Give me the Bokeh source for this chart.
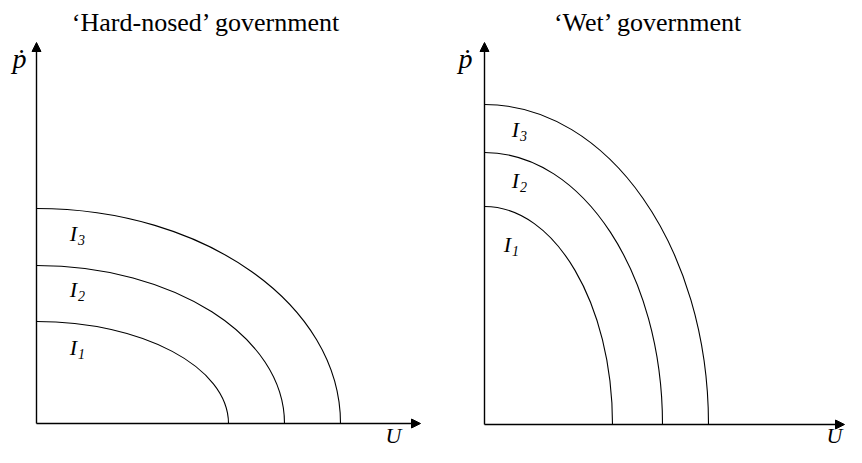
from bokeh.plotting import figure
from bokeh.models import Range1d, Arrow, NormalHead
from bokeh.layouts import row
from bokeh.core.properties import value
from bokeh.embed import file_html
from bokeh.resources import INLINE

# ---- data (abstract units, origin at axes intersection) ----
titles = ["\u2018Hard-nosed\u2019 government", "\u2018Wet\u2019 government"]
curve_names = ["1", "2", "3"]

left_u_intercepts = [192, 248, 304]
left_p_intercepts = [102, 158, 215]
left_label_x = [37, 37, 37]
left_label_y = [76, 134, 190]

right_u_intercepts = [128, 178, 224]
right_p_intercepts = [218, 272, 320]
right_label_x = [23, 31, 31]
right_label_y = [180, 244, 295]

FONT = value("Liberation Serif")
K = 0.5523


def panel(xr, yr, x_axis_end, y_axis_end, u_int, p_int, lx, ly, title_xy, pdot_xy, u_xy, title):
    p = figure(width=423, height=447, x_range=Range1d(*xr), y_range=Range1d(*yr),
               output_backend="svg", toolbar_location=None, min_border=0)
    p.axis.visible = False
    p.grid.visible = False
    p.outline_line_color = None
    p.background_fill_color = "white"
    p.border_fill_color = "white"

    for xs, ys in [((0, 0), (x_axis_end, 0)), ((0, 0), (0, y_axis_end))]:
        p.add_layout(Arrow(end=NormalHead(size=9, fill_color="black", line_color="black", line_width=1),
                           x_start=xs[0], y_start=xs[1], x_end=ys[0], y_end=ys[1],
                           line_color="black", line_width=1.4))

    # quarter-ellipse indifference curves via cubic Bezier
    p.bezier(x0=[0] * 3, y0=p_int, x1=u_int, y1=[0] * 3,
             cx0=[K * a for a in u_int], cy0=p_int,
             cx1=u_int, cy1=[K * b for b in p_int],
             line_color="black", line_width=1.1)

    p.text(x=lx, y=ly, text=["I"] * 3, text_font=FONT, text_font_size="22px",
           text_font_style="italic", text_align="center", text_baseline="middle")
    p.text(x=[x + 8 for x in lx], y=[y - 6 for y in ly], text=curve_names, text_font=FONT,
           text_font_size="14px", text_font_style="italic", text_align="center",
           text_baseline="middle")

    p.text(x=[title_xy[0]], y=[title_xy[1]], text=[title], text_font=FONT,
           text_font_size="26px", text_align="center", text_baseline="middle")
    p.text(x=[pdot_xy[0]], y=[pdot_xy[1]], text=["\u1e57"], text_font=FONT,
           text_font_size="28px", text_font_style="italic", text_align="center",
           text_baseline="middle")
    p.text(x=[u_xy[0]], y=[u_xy[1]], text=["U"], text_font=FONT,
           text_font_size="22px", text_font_style="italic", text_align="center",
           text_baseline="middle")
    return p


left = panel((-36, 387), (-24, 423), 384, 381, left_u_intercepts, left_p_intercepts,
             left_label_x, left_label_y, (170, 401), (-17, 365), (357, -12), titles[0])
right = panel((-61, 362), (-23, 424), 360, 382, right_u_intercepts, right_p_intercepts,
              right_label_x, right_label_y, (164, 402), (-19, 366), (350, -11), titles[1])

layout = row(left, right)
open("out.html", "w").write(file_html(layout, INLINE))
